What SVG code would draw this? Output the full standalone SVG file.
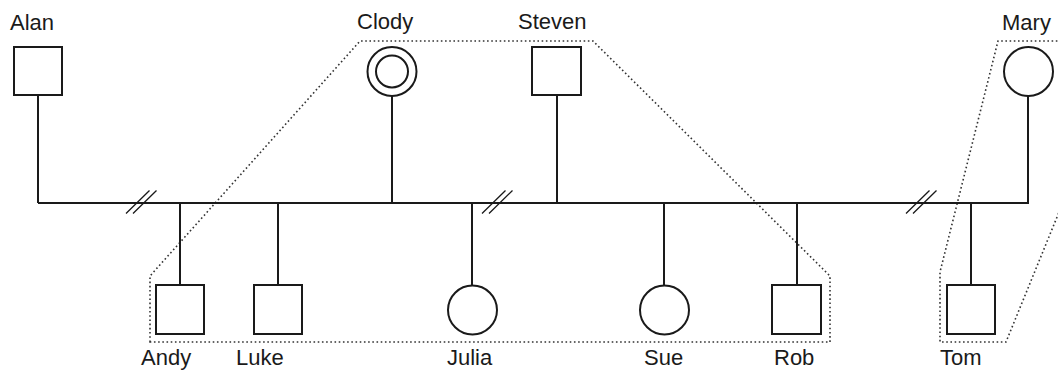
<svg xmlns="http://www.w3.org/2000/svg" width="1058" height="371" viewBox="0 0 1058 371">
<style>
.sym{fill:#fff;stroke:#1a1a1a;stroke-width:2}
.ln{fill:none;stroke:#1a1a1a;stroke-width:2}
.sl{fill:none;stroke:#1a1a1a;stroke-width:1.3}
.dot{fill:none;stroke:#333;stroke-width:1.6;stroke-dasharray:1.6 2.6}
text{font-family:"Liberation Sans",Arial,sans-serif;font-size:22px;fill:#1a1a1a}
</style>
<rect width="1058" height="371" fill="#fff"/>
<g id="groups">
<polygon class="dot" points="150,342 150,276 360,41 593,41 830,276 830,342"/>
<polyline class="dot" points="1070,41 998,41 940,272 940,342 1006,342 1064,200"/>
</g>
<g id="connectors">
<line class="ln" x1="38" y1="203" x2="1029" y2="203"/>
<line class="ln" x1="38" y1="95" x2="38" y2="203"/>
<line class="ln" x1="392" y1="96" x2="392" y2="203"/>
<line class="ln" x1="557" y1="95" x2="557" y2="203"/>
<line class="ln" x1="1028" y1="96" x2="1028" y2="203"/>
<line class="ln" x1="180" y1="203" x2="180" y2="285"/>
<line class="ln" x1="278" y1="203" x2="278" y2="285"/>
<line class="ln" x1="472" y1="203" x2="472" y2="285"/>
<line class="ln" x1="664" y1="203" x2="664" y2="285"/>
<line class="ln" x1="797" y1="203" x2="797" y2="285"/>
<line class="ln" x1="971" y1="203" x2="971" y2="285"/>
<path class="sl" d="M126,213.5L149.5,190.5M133,213.5L156.5,190.5"/>
<path class="sl" d="M482,213.5L505.5,190.5M489,213.5L512.5,190.5"/>
<path class="sl" d="M906,213.5L929.5,190.5M913,213.5L936.5,190.5"/>
</g>
<g id="alan"><rect class="sym" x="14" y="47" width="48" height="48"/><text x="10" y="30">Alan</text></g>
<g id="clody"><circle class="sym" cx="392" cy="71.5" r="24.5"/><circle class="sym" cx="392" cy="71.5" r="16"/><text x="357" y="29">Clody</text></g>
<g id="steven"><rect class="sym" x="532" y="47" width="49" height="48"/><text x="518" y="29">Steven</text></g>
<g id="mary"><circle class="sym" cx="1028.5" cy="71.5" r="24.5"/><text x="1002" y="30">Mary</text></g>
<g id="andy"><rect class="sym" x="156" y="285" width="48" height="49"/><text x="141" y="365">Andy</text></g>
<g id="luke"><rect class="sym" x="254" y="285" width="48" height="49"/><text x="236" y="365">Luke</text></g>
<g id="julia"><circle class="sym" cx="472.5" cy="310" r="24.5"/><text x="447" y="365">Julia</text></g>
<g id="sue"><circle class="sym" cx="664.5" cy="310" r="24.5"/><text x="644" y="365">Sue</text></g>
<g id="rob"><rect class="sym" x="772" y="285" width="49" height="49"/><text x="774" y="365">Rob</text></g>
<g id="tom"><rect class="sym" x="947" y="285" width="48" height="49"/><text x="940" y="365">Tom</text></g>
</svg>
